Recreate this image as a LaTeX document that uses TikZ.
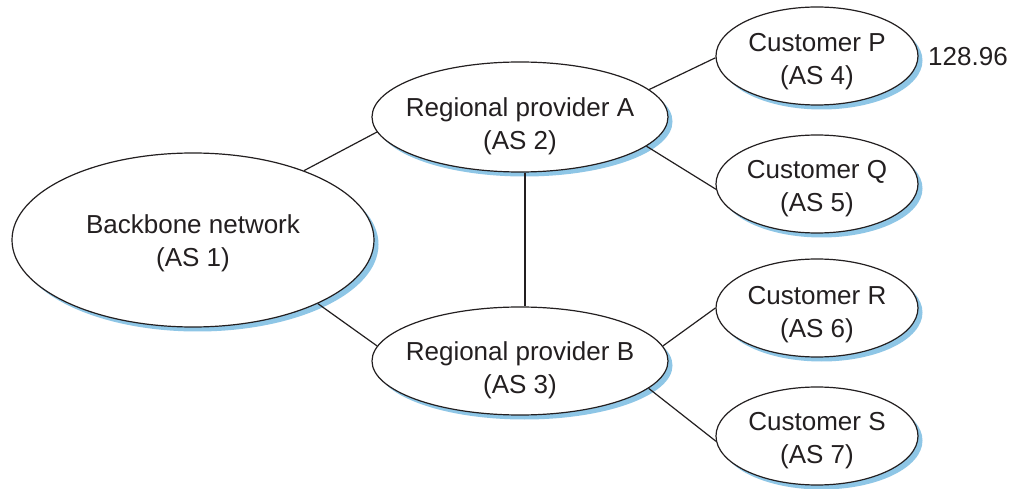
\documentclass[tikz,border=0pt]{standalone}
\usepackage{fontspec}
\setmainfont{Liberation Sans}
\usetikzlibrary{shapes.geometric,shadows}
\definecolor{shadowblue}{RGB}{142,198,230}
\definecolor{ink}{RGB}{35,31,32}
\newcommand\twoline[3][3pt]{\raisebox{-#1}[\height][\depth]{\makebox[0pt]{\begin{tabular}{@{}c@{}}#2\\#3\end{tabular}}}}
\begin{document}
\begin{tikzpicture}[x=1pt,y=-1pt,
  asnode/.style={ellipse,draw=ink,line width=1.2pt,fill=white,inner sep=0pt,
    text=ink,font=\fontsize{26}{33}\selectfont,
    drop shadow={shadow xshift=4.5pt,shadow yshift=-4.5pt,fill=shadowblue,opacity=1}},
  big/.style={asnode,minimum width=362pt,minimum height=174pt},
  mid/.style={asnode,minimum width=296pt,minimum height=108pt},
  small/.style={asnode,minimum width=202pt,minimum height=98pt},
  link/.style={draw=ink,line width=1.2pt}]
\useasboundingbox[fill=white] (0,0) rectangle (1013,489);
\node[big] (bb) at (193,240) {\twoline{Backbone network}{(AS 1)}};
\node[mid,minimum height=110pt] (A) at (520,117) {\twoline[9pt]{Regional provider A}{(AS 2)}};
\node[mid] (B) at (520,361) {\twoline[9pt]{Regional provider B}{(AS 3)}};
\node[small] (P) at (817,56) {\twoline[5pt]{Customer P}{(AS 4)}};
\node[small] (Q) at (817,184) {\twoline[4pt]{Customer Q}{(AS 5)}};
\node[small] (R) at (817,308) {\twoline[6pt]{Customer R}{(AS 6)}};
\node[small] (S) at (817,436) {\twoline[4pt]{Customer S}{(AS 7)}};
\node[text=ink,font=\fontsize{26}{33}\selectfont] (num) at (968,57) {128.96};
\draw[link] (bb.32.5) -- (A.186.4);
\draw[link] (bb.-27) -- (B.174.8);
\draw[link] ([xshift=5pt]A.south) -- ([xshift=5pt]B.north);
\draw[link] (A.12) -- (P.181);
\draw[link] (A.-13.5) -- (Q.183.4);
\draw[link] (B.6) -- (R.180);
\draw[link] (B.-12) -- (S.183.4);
\end{tikzpicture}
\end{document}
